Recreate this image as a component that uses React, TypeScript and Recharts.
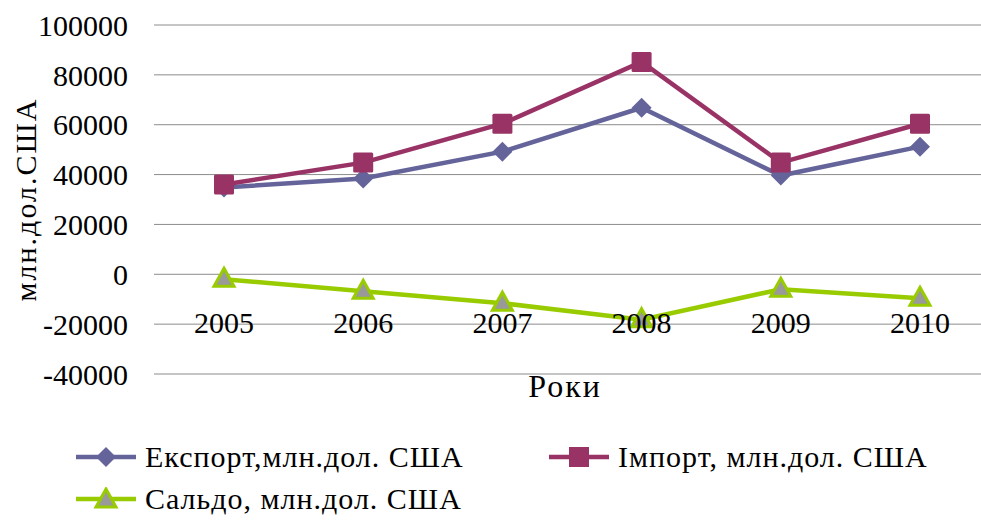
import React from 'react';
import {
  LineChart,
  Line,
  XAxis,
  YAxis,
  CartesianGrid,
} from 'recharts';

const years = ['2005', '2006', '2007', '2008', '2009', '2010'];
const exportValues = [34800, 38400, 49200, 66800, 39600, 51200];
const importValues = [36000, 44800, 60400, 85200, 44800, 60400];
const saldoValues = [-2000, -6800, -11600, -18200, -6000, -9600];
const yTicks = [-40000, -20000, 0, 20000, 40000, 60000, 80000, 100000];

const EXPORT_COLOR = '#64649a';
const IMPORT_COLOR = '#993366';
const SALDO_COLOR = '#99cc00';
const FONT = "'Liberation Serif', 'Times New Roman', Tinos, 'DejaVu Serif', serif";

const data = years.map((year, i) => ({
  year,
  exp: exportValues[i],
  imp: importValues[i],
  saldo: saldoValues[i],
}));

const Diamond = (props: any) => {
  const { cx, cy } = props;
  if (cx == null || cy == null) return null;
  return (
    <path
      d={`M${cx},${cy - 10} L${cx + 10},${cy} L${cx},${cy + 10} L${cx - 10},${cy} Z`}
      fill={EXPORT_COLOR}
    />
  );
};

const Square = (props: any) => {
  const { cx, cy } = props;
  if (cx == null || cy == null) return null;
  return <rect x={cx - 10} y={cy - 10} width={20} height={20} rx={1.5} fill={IMPORT_COLOR} />;
};

const Triangle = (props: any) => {
  const { cx, cy } = props;
  if (cx == null || cy == null) return null;
  return (
    <path
      d={`M${cx},${cy - 11} L${cx + 10},${cy + 7} L${cx - 10},${cy + 7} Z`}
      fill="#999999"
      stroke={SALDO_COLOR}
      strokeWidth={3}
      strokeLinejoin="miter"
    />
  );
};

// year labels sit just under the zero line, like excel's crossing axis
const YearTick = (props: any) => {
  const { x, y, payload } = props;
  return (
    <text x={x} y={y} dy={-41} textAnchor="middle" fontSize={30} style={{ fontFamily: FONT }} fill="#000">
      {payload.value}
    </text>
  );
};

const legendItems = [
  { name: 'Експорт,млн.дол. США', color: EXPORT_COLOR, shape: 'diamond' },
  { name: 'Імпорт, млн.дол. США', color: IMPORT_COLOR, shape: 'square' },
  { name: 'Сальдо, млн.дол. США', color: SALDO_COLOR, shape: 'triangle' },
];

function LegendIcon({ color, shape }: { color: string; shape: string }) {
  return (
    <svg width={62} height={24} style={{ marginRight: 8, flexShrink: 0 }}>
      <line x1={1} y1={12} x2={61} y2={12} stroke={color} strokeWidth={4.5} />
      {shape === 'diamond' && <path d="M31,2 L41,12 L31,22 L21,12 Z" fill={color} />}
      {shape === 'square' && <rect x={21} y={2} width={20} height={20} fill={color} />}
      {shape === 'triangle' && (
        <path d="M31,2 L41,20 L21,20 Z" fill="#999999" stroke={SALDO_COLOR} strokeWidth={3} />
      )}
    </svg>
  );
}

const axisText = { fontSize: 30, fill: '#000', style: { fontFamily: FONT } };

export default function App() {
  return (
    <div
      style={{
        position: 'absolute',
        left: 0,
        top: 0,
        width: 981,
        height: 521,
        overflow: 'hidden',
        background: '#fff',
        fontFamily: FONT,
      }}
    >
      <LineChart
        width={990}
        height={521}
        data={data}
        margin={{ top: 25, right: 0, left: 0, bottom: 107 }}
        style={{ fontFamily: FONT }}
      >
        <CartesianGrid vertical={false} stroke="#8c8c8c" strokeWidth={1} />
        <XAxis
          dataKey="year"
          height={40}
          padding={{ left: 70, right: 70 }}
          axisLine={false}
          tickLine={false}
          tickSize={0}
          tickMargin={0}
          tick={<YearTick />}
          label={{
            value: 'Роки',
            position: 'insideTop',
            offset: 0,
            dx: -7,
            fontSize: 32,
            fill: '#000',
            style: { fontFamily: FONT, letterSpacing: 2 },
          }}
        />
        <YAxis
          width={154}
          domain={[-40000, 100000]}
          ticks={yTicks}
          interval={0}
          axisLine={false}
          tickLine={false}
          tickSize={24}
          tickMargin={2}
          tick={axisText}
          label={{
            value: 'млн.дол.США',
            angle: -90,
            position: 'center',
            dx: -52,
            fontSize: 30,
            fill: '#000',
            style: { fontFamily: FONT, letterSpacing: 2 },
          }}
        />
        <Line
          dataKey="exp"
          name="Експорт,млн.дол. США"
          stroke={EXPORT_COLOR}
          strokeWidth={4.5}
          dot={<Diamond />}
          activeDot={false}
          isAnimationActive={false}
        />
        <Line
          dataKey="imp"
          name="Імпорт, млн.дол. США"
          stroke={IMPORT_COLOR}
          strokeWidth={4.5}
          dot={<Square />}
          activeDot={false}
          isAnimationActive={false}
        />
        <Line
          dataKey="saldo"
          name="Сальдо, млн.дол. США"
          stroke={SALDO_COLOR}
          strokeWidth={4.5}
          dot={<Triangle />}
          activeDot={false}
          isAnimationActive={false}
        />
      </LineChart>
      <div
        style={{
          position: 'absolute',
          left: 75,
          top: 439,
          width: 960,
          display: 'flex',
          flexWrap: 'wrap',
          rowGap: 6,
          fontSize: 30,
          letterSpacing: 1,
          color: '#000',
        }}
      >
        {legendItems.map((item) => (
          <div
            key={item.name}
            style={{ display: 'flex', alignItems: 'center', width: 473, height: 36 }}
          >
            <LegendIcon color={item.color} shape={item.shape} />
            <span style={{ whiteSpace: 'nowrap' }}>{item.name}</span>
          </div>
        ))}
      </div>
    </div>
  );
}
